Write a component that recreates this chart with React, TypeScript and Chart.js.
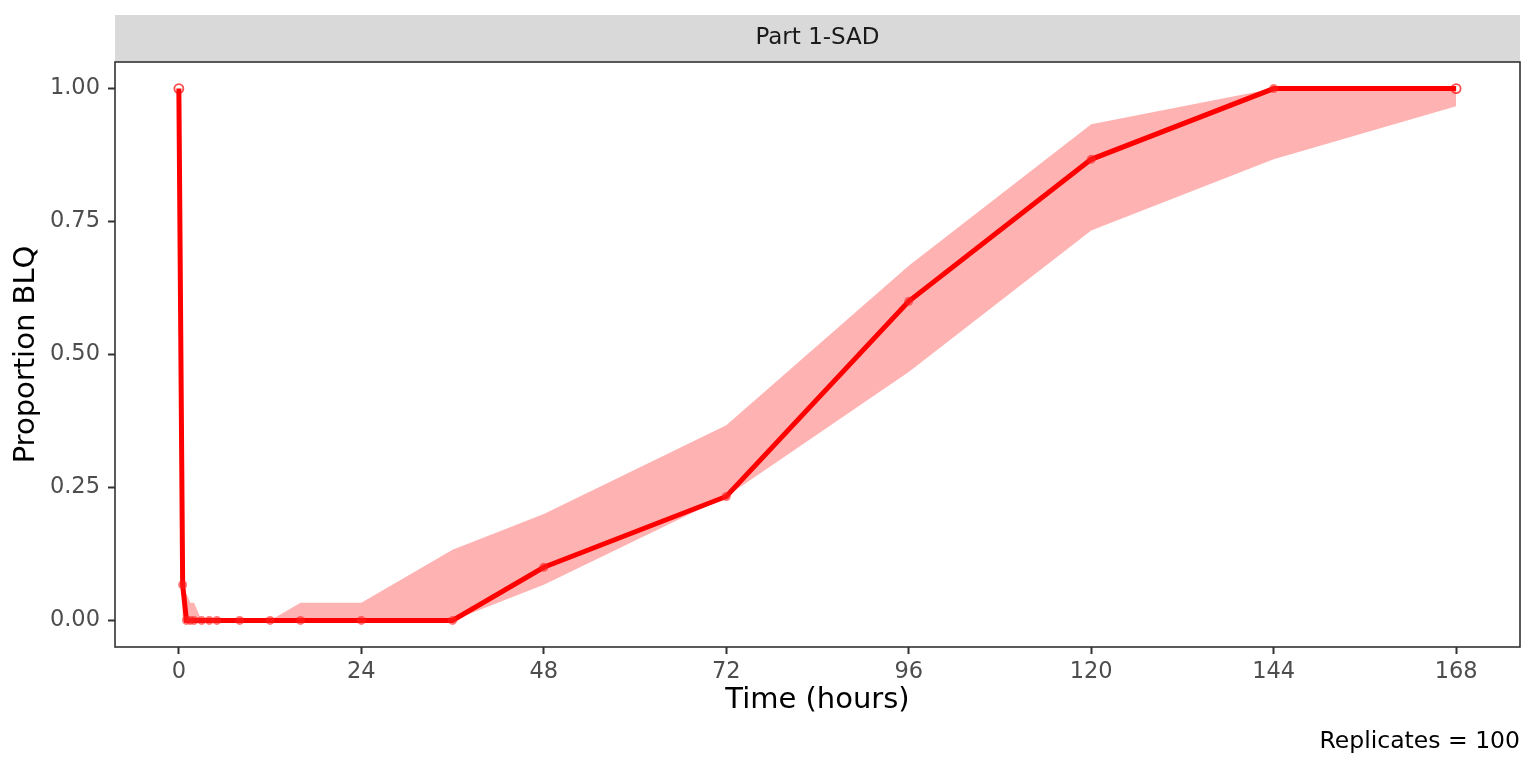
import { useEffect, useRef } from 'react';
import { Chart, registerables } from 'chart.js';

Chart.register(...registerables);

// sampling times (hours) and simulated proportion BLQ summary
const timeHours = [0, 0.5, 1, 1.5, 2, 3, 4, 5, 8, 12, 16, 24, 36, 48, 72, 96, 120, 144, 168];
const medianBlq = [1, 0.067, 0, 0, 0, 0, 0, 0, 0, 0, 0, 0, 0, 0.1, 0.233, 0.6, 0.867, 1, 1];
const lowerBlq = [1, 0, 0, 0, 0, 0, 0, 0, 0, 0, 0, 0, 0, 0.067, 0.233, 0.467, 0.733, 0.867, 0.967];
const upperBlq = [1, 0.067, 0.05, 0.033, 0.033, 0, 0, 0, 0, 0, 0.033, 0.033, 0.133, 0.2, 0.367, 0.667, 0.933, 1, 1];
// points drawn as open circles
const openPoint = [true, false, false, false, false, false, false, false, false, false, false, false, false, false, false, false, false, false, true];

const xTicks = [0, 24, 48, 72, 96, 120, 144, 168];
const yTicks = [0, 0.25, 0.5, 0.75, 1];

const stripLabel = 'Part 1-SAD';
const captionText = 'Replicates = 100';

const FONT = "'DejaVu Sans', sans-serif";

const toPoints = (ys: number[]) => timeHours.map((t, i) => ({ x: t, y: ys[i] }));

const decorPlugin = {
    id: 'decor',
    beforeDraw(chart: Chart) {
        const { ctx, chartArea } = chart;
        ctx.save();
        // facet strip
        ctx.fillStyle = '#D9D9D9';
        ctx.fillRect(chartArea.left, 15, chartArea.right - chartArea.left, chartArea.top - 15);
        ctx.fillStyle = '#1A1A1A';
        ctx.font = `23px ${FONT}`;
        ctx.textAlign = 'center';
        ctx.textBaseline = 'middle';
        ctx.fillText(stripLabel, (chartArea.left + chartArea.right) / 2, 38);
        // caption
        ctx.fillStyle = '#000000';
        ctx.font = `23.5px ${FONT}`;
        ctx.textAlign = 'right';
        ctx.textBaseline = 'alphabetic';
        ctx.fillText(captionText, chartArea.right, 748);
        ctx.restore();
    },
    afterDraw(chart: Chart) {
        const { ctx, chartArea } = chart;
        ctx.save();
        ctx.strokeStyle = '#333333';
        ctx.lineWidth = 1.6;
        ctx.strokeRect(chartArea.left, chartArea.top, chartArea.right - chartArea.left, chartArea.bottom - chartArea.top);
        ctx.restore();
    }
};

export default function App() {
    const canvasRef = useRef<HTMLCanvasElement>(null);

    useEffect(() => {
        if (!canvasRef.current) return;
        const chart = new Chart(canvasRef.current, {
            type: 'line',
            data: {
                datasets: [
                    {
                        label: 'lower',
                        data: toPoints(lowerBlq),
                        borderWidth: 0,
                        borderColor: 'rgba(0,0,0,0)',
                        pointRadius: 0,
                        fill: false,
                        tension: 0,
                        order: 2
                    },
                    {
                        label: 'upper',
                        data: toPoints(upperBlq),
                        borderWidth: 0,
                        borderColor: 'rgba(0,0,0,0)',
                        backgroundColor: 'rgba(255,0,0,0.3)',
                        pointRadius: 0,
                        fill: '-1',
                        tension: 0,
                        order: 1
                    },
                    {
                        label: 'median',
                        data: toPoints(medianBlq),
                        borderColor: '#FF0000',
                        borderWidth: 5,
                        pointRadius: 4.5,
                        pointBackgroundColor: openPoint.map((o) => (o ? 'rgba(255,255,255,0)' : 'rgba(255,30,30,0.6)')),
                        pointBorderColor: openPoint.map((o) => (o ? 'rgba(255,0,0,0.7)' : 'rgba(0,0,0,0)')),
                        pointBorderWidth: openPoint.map((o) => (o ? 1.8 : 0)),
                        fill: false,
                        tension: 0,
                        order: 0
                    }
                ]
            },
            options: {
                responsive: false,
                animation: false,
                devicePixelRatio: 1,
                layout: { padding: { top: 62, right: 16, left: 0, bottom: 0 } },
                plugins: {
                    legend: { display: false },
                    tooltip: { enabled: false }
                },
                scales: {
                    x: {
                        type: 'linear',
                        min: -8.4,
                        max: 176.4,
                        afterBuildTicks: (scale) => {
                            scale.ticks = xTicks.map((v) => ({ value: v }));
                        },
                        afterFit: (scale) => {
                            scale.height = 121;
                        },
                        border: { display: false },
                        grid: {
                            drawOnChartArea: false,
                            drawTicks: true,
                            tickLength: 7,
                            tickWidth: 2,
                            tickColor: '#333333'
                        },
                        ticks: {
                            autoSkip: false,
                            maxRotation: 0,
                            padding: 5,
                            color: '#4D4D4D',
                            font: { family: FONT, size: 22.5 },
                            callback: (v) => String(v)
                        },
                        title: {
                            display: true,
                            text: 'Time (hours)',
                            color: '#000000',
                            font: { family: FONT, size: 29 },
                            padding: { top: 0, bottom: 50 }
                        }
                    },
                    y: {
                        type: 'linear',
                        min: -0.05,
                        max: 1.05,
                        afterBuildTicks: (scale) => {
                            scale.ticks = yTicks.map((v) => ({ value: v }));
                        },
                        afterFit: (scale) => {
                            scale.width = 115;
                        },
                        border: { display: false },
                        grid: {
                            drawOnChartArea: false,
                            drawTicks: true,
                            tickLength: 7,
                            tickWidth: 2,
                            tickColor: '#333333'
                        },
                        ticks: {
                            autoSkip: false,
                            padding: 8,
                            color: '#4D4D4D',
                            font: { family: FONT, size: 22.5 },
                            callback: (v) => Number(v).toFixed(2)
                        },
                        title: {
                            display: true,
                            text: 'Proportion BLQ',
                            color: '#000000',
                            font: { family: FONT, size: 29 },
                            padding: { top: 9, bottom: 0 }
                        }
                    }
                }
            },
            plugins: [decorPlugin]
        });
        return () => chart.destroy();
    }, []);

    return (
        <div style={{ position: 'absolute', left: 0, top: 0, width: 1536, height: 768, background: '#FFFFFF' }}>
            <canvas ref={canvasRef} width={1536} height={768}></canvas>
        </div>
    );
}
